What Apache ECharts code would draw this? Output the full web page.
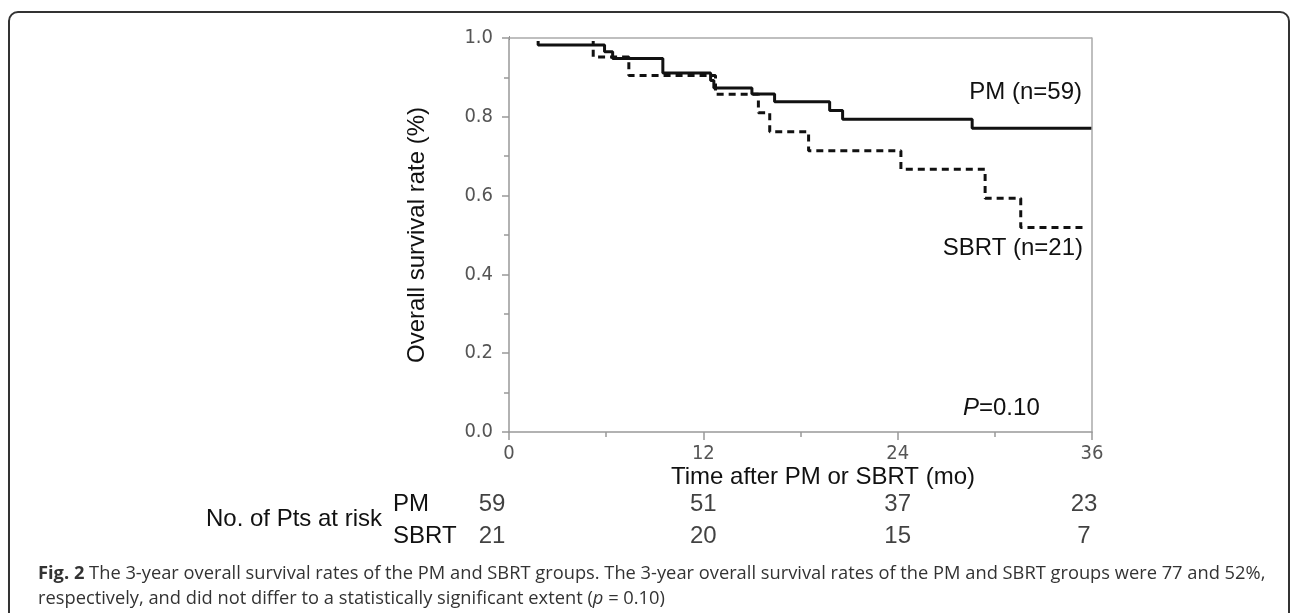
<!DOCTYPE html>
<html>
<head>
<meta charset="utf-8">
<script src="https://cdn.jsdelivr.net/npm/echarts@6/dist/echarts.min.js"></script>
<style>
html,body{margin:0;padding:0;background:#fff;}
#chart{width:1292px;height:613px;}
</style>
</head>
<body>
<div id="chart"></div>
<script>
// ---- data ----
const pmTime = [0, 1.8, 5.9, 6.4, 9.5, 12.45, 12.65, 15.0, 16.4, 19.8, 20.6, 28.6, 36];
const pmSurv = [1.0, 0.982, 0.965, 0.948, 0.911, 0.892, 0.873, 0.858, 0.838, 0.816, 0.794, 0.771, 0.771];
const sbrtTime = [0, 5.2, 7.4, 12.75, 15.4, 16.1, 18.5, 24.2, 29.4, 31.6, 35.6];
const sbrtSurv = [1.0, 0.952, 0.905, 0.857, 0.810, 0.762, 0.714, 0.667, 0.593, 0.519, 0.519];
const xTicks = [0, 12, 24, 36];
const riskGroups = ['SBRT', 'PM'];
const riskTimes = [0, 12, 24, 36];
const pmRisk = [59, 51, 37, 23];
const sbrtRisk = [21, 20, 15, 7];

const chart = echarts.init(document.getElementById('chart'), null, {renderer: 'canvas'});
const sans = "'Liberation Sans', Arial, sans-serif";
const tickFont = "'DejaVu Sans Condensed', 'DejaVu Sans', Verdana, sans-serif";

function pairs(xs, ys) { return xs.map((x, i) => [x, ys[i]]); }
function riskData(group, vals) {
  return riskTimes.map((t, i) => {
    const item = {value: [t, group, vals[i]]};
    if (i === 0) item.label = {offset: [-17, 0]};
    if (i === riskTimes.length - 1) item.label = {offset: [-8, 0]};
    return item;
  });
}
const boxLine = {show: true, lineStyle: {color: '#aaa', width: 1.5}};

const option = {
  backgroundColor: '#fff',
  animation: false,
  grid: [
    {left: 509, top: 38, width: 583, height: 394, show: false},
    {left: 509, top: 488, width: 583, height: 64, show: false}
  ],
  xAxis: [
    {
      type: 'value', gridIndex: 0, min: 0, max: 36, interval: 12, z: 10,
      axisLine: {show: true, lineStyle: {color: '#999', width: 1.5}},
      axisTick: {show: true, length: 8, lineStyle: {color: '#999', width: 1.5}},
      minorTick: {show: true, splitNumber: 2, length: 5, lineStyle: {color: '#999', width: 1.5}},
      splitLine: {show: false},
      axisLabel: {margin: 12, color: '#555', fontFamily: tickFont, fontSize: 20,
        formatter: v => xTicks.includes(v) ? String(v) : ''}
    },
    {type: 'value', gridIndex: 1, min: 0, max: 36, show: false}
  ],
  yAxis: [
    {
      type: 'value', gridIndex: 0, min: 0, max: 1, interval: 0.2, z: 10,
      axisLine: {show: true, lineStyle: {color: '#999', width: 1.5}},
      axisTick: {show: true, length: 7, lineStyle: {color: '#999', width: 1.5}},
      minorTick: {show: true, splitNumber: 2, length: 5, lineStyle: {color: '#999', width: 1.5}},
      splitLine: {show: false},
      axisLabel: {margin: 16, color: '#555', fontFamily: tickFont, fontSize: 20,
        formatter: v => v.toFixed(1)},
      name: 'Overall survival rate (%)', nameLocation: 'middle', nameGap: 80, nameRotate: 90,
      nameTextStyle: {fontFamily: sans, fontSize: 24, color: '#111'}
    },
    {
      type: 'category', gridIndex: 1, data: riskGroups,
      axisLine: {show: false}, axisTick: {show: false}, splitLine: {show: false},
      axisLabel: {show: true, align: 'left', margin: 116, fontFamily: sans, fontSize: 24, color: '#111'}
    },
    {
      type: 'value', gridIndex: 0, min: 0, max: 1, position: 'right', z: 10,
      axisLine: boxLine, axisTick: {show: false}, axisLabel: {show: false}, splitLine: {show: false}
    }
  ],
  series: [
    {
      name: 'PM', type: 'line', xAxisIndex: 0, yAxisIndex: 0, step: 'end',
      data: pairs(pmTime, pmSurv), showSymbol: false, symbol: 'none',
      lineStyle: {color: '#111', width: 3, type: 'solid'}, z: 3
    },
    {
      name: 'SBRT', type: 'line', xAxisIndex: 0, yAxisIndex: 0, step: 'end',
      data: pairs(sbrtTime, sbrtSurv), showSymbol: false, symbol: 'none',
      lineStyle: {color: '#111', width: 3, type: [7, 5]}, z: 2
    },
    {
      name: 'PM at risk', type: 'scatter', xAxisIndex: 1, yAxisIndex: 1,
      symbolSize: 0, data: riskData('PM', pmRisk),
      label: {show: true, position: 'inside', formatter: p => p.value[2],
        fontFamily: sans, fontSize: 24, color: '#111'}
    },
    {
      name: 'SBRT at risk', type: 'scatter', xAxisIndex: 1, yAxisIndex: 1,
      symbolSize: 0, data: riskData('SBRT', sbrtRisk),
      label: {show: true, position: 'inside', formatter: p => p.value[2],
        fontFamily: sans, fontSize: 24, color: '#111'}
    }
  ],
  graphic: [
    {type: 'rect', silent: true, shape: {x: 9, y: 12, width: 1280, height: 700, r: 9},
      style: {fill: 'none', stroke: '#333', lineWidth: 2}},
    {type: 'text', x: 1082, y: 92, style: {text: 'PM (n=59)', font: "24px 'Liberation Sans'", fill: '#111', align: 'right', verticalAlign: 'middle'}},
    {type: 'text', x: 1083, y: 248, style: {text: 'SBRT (n=21)', font: "24px 'Liberation Sans'", fill: '#111', align: 'right', verticalAlign: 'middle'}},
    {type: 'text', x: 963, y: 408, style: {text: '{i|P}=0.10', font: "24px 'Liberation Sans'", fill: '#111', align: 'left', verticalAlign: 'middle',
      rich: {i: {fontStyle: 'italic', fontFamily: 'Liberation Sans', fontSize: 24, fill: '#111'}}}},
    {type: 'text', x: 823, y: 477, style: {text: 'Time after PM or SBRT (mo)', font: "24px 'Liberation Sans'", fill: '#111', align: 'center', verticalAlign: 'middle'}},
    {type: 'text', x: 382, y: 519, style: {text: 'No. of Pts at risk', font: "24px 'Liberation Sans'", fill: '#111', align: 'right', verticalAlign: 'middle'}},
    {type: 'text', x: 38, y: 574, style: {text: '{b|Fig. 2} The 3-year overall survival rates of the PM and SBRT groups. The 3-year overall survival rates of the PM and SBRT groups were 77 and 52%,',
      font: "18.3px 'Open Sans'", fill: '#333', verticalAlign: 'middle',
      rich: {b: {fontWeight: 'bold', fontFamily: 'Open Sans', fontSize: 18.3, fill: '#333'}}}},
    {type: 'text', x: 38, y: 599, style: {text: 'respectively, and did not differ to a statistically significant extent ({i|p} = 0.10)',
      font: "18.3px 'Open Sans'", fill: '#333', verticalAlign: 'middle',
      rich: {i: {fontStyle: 'italic', fontFamily: 'Open Sans', fontSize: 18.3, fill: '#333'}}}}
  ]
};
chart.setOption(option);

// top frame of the plot box, drawn above the curves (hides the curves at 1.0 as in the original)
const pA = chart.convertToPixel({gridIndex: 0}, [0, 1]);
const pB = chart.convertToPixel({gridIndex: 0}, [36, 1]);
chart.setOption({
  graphic: option.graphic.concat([
    {type: 'line', silent: true, z: 100, shape: {x1: pA[0] + 1, y1: pA[1], x2: pB[0] - 1, y2: pB[1]},
      style: {stroke: '#fff', lineWidth: 6}},
    {type: 'line', silent: true, z: 101, shape: {x1: pA[0], y1: pA[1], x2: pB[0], y2: pB[1]},
      style: {stroke: '#aaa', lineWidth: 1.5}}
  ])
});
</script>
</body>
</html>
